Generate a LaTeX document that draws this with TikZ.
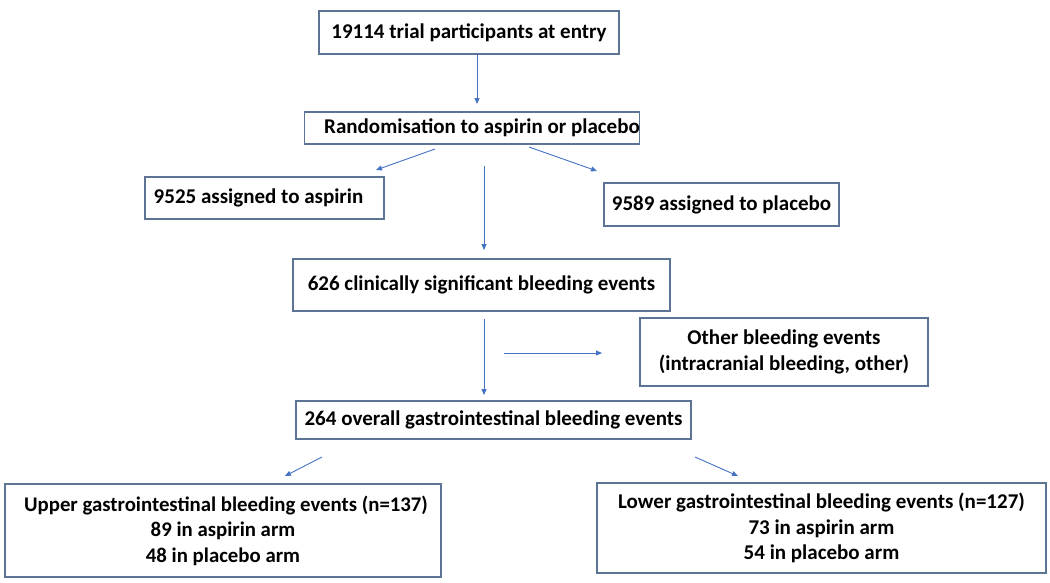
\documentclass[tikz,border=0pt]{standalone}
\usepackage{fontspec}
\setmainfont{Carlito}
\usetikzlibrary{arrows.meta}
\definecolor{boxline}{HTML}{5E7494}
\definecolor{arrowblue}{HTML}{4472C4}
\tikzset{box/.style 2 args={draw=boxline, line width=1.2pt, minimum width=#1, minimum height=#2, inner sep=0pt,
		font=\bfseries\fontsize{21}{25.5}\selectfont, align=center},
	%arrows float between the boxes
	arr/.style={draw=arrowblue, line width=0.9pt, -{Triangle[length=6pt,width=5pt]}}}

\begin{document}
\begin{tikzpicture}[x=1pt, y=-1pt]
		\useasboundingbox (0,0) rectangle (1050,582);
		\node[box={300pt}{43pt}] (entry) at (469,32.5) {19114 trial participants at entry};
		\node[box={335pt}{32pt}] (rand) at (472,128) {\hspace*{20pt}Randomisation to aspirin or placebo};
		\node[box={239pt}{42pt}] (aspirin) at (264.5,198) {9525 assigned to aspirin\hspace*{12pt}};
		\node[box={235pt}{43pt}] (placebo) at (721.5,204.5) {9589 assigned to placebo};
		\node[box={377pt}{52pt}] (sig) at (481.5,285) {626 clinically significant bleeding events};
		\node[box={288pt}{68pt}] (other) at (784,352) {Other bleeding events\\(intracranial bleeding, other)};
		\node[box={395pt}{38pt}] (gi) at (493.5,420) {264 overall gastrointestinal bleeding events};
		\node[box={436pt}{93pt}, font=\bfseries\fontsize{20.8}{25.5}\selectfont] (upper) at (223,530.5) {\hspace*{6pt}Upper gastrointestinal bleeding events (n=137)\\89 in aspirin arm\\48 in placebo arm};
		\node[box={449pt}{90pt}] (lower) at (821.5,528) {Lower gastrointestinal bleeding events (n=127)\\73 in aspirin arm\\54 in placebo arm};

		\coordinate (e1) at (477,54);   \coordinate (e2) at (477,104);
		\coordinate (r1) at (435,149);  \coordinate (r2) at (376,170);
		\coordinate (r3) at (529,147);  \coordinate (r4) at (597,171);
		\coordinate (m1) at (484,166);  \coordinate (m2) at (484,250);
		\coordinate (s1) at (484,319);  \coordinate (s2) at (484,395);
		\coordinate (h1) at (504,353);  \coordinate (h2) at (602,353);
		\coordinate (g1) at (322,457);  \coordinate (g2) at (285,476);
		\coordinate (g3) at (695,457);  \coordinate (g4) at (738,476);

		\draw[arr] (e1) -- (e2);
		\draw[arr] (r1) -- (r2);
		\draw[arr] (r3) -- (r4);
		\draw[arr] (m1) -- (m2);
		\draw[arr] (s1) -- (s2);
		\draw[arr] (h1) -- (h2);
		\draw[arr] (g1) -- (g2);
		\draw[arr] (g3) -- (g4);
\end{tikzpicture}
\end{document}
